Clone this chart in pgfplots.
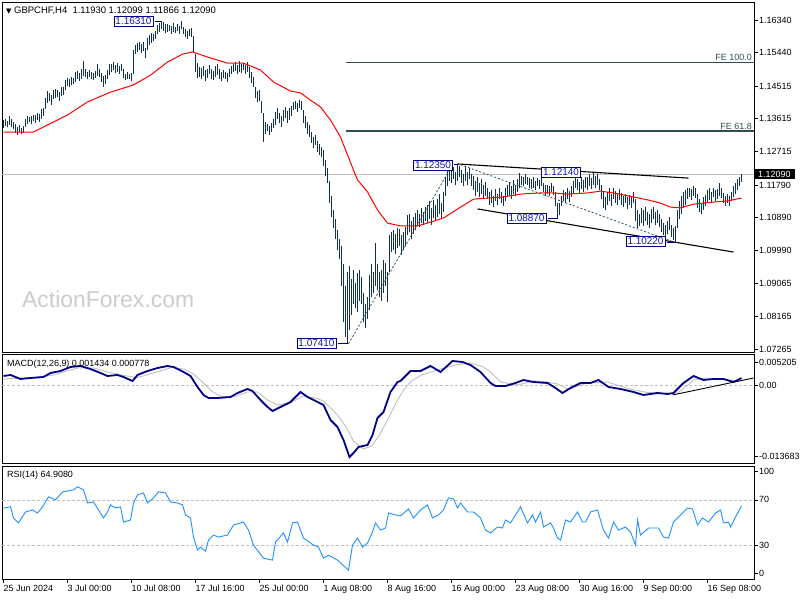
\documentclass[border=0pt]{standalone}
\usepackage{pgfplots}
\pgfplotsset{compat=1.18}
\usepackage{fontspec}
\setmainfont{Liberation Sans}
\newfontfamily\dejavu{DejaVu Sans}
\definecolor{barcol}{RGB}{16,50,74}
\definecolor{fecol}{RGB}{47,79,79}
\definecolor{lblblue}{RGB}{20,20,170}
\definecolor{lblborder}{RGB}{0,0,128}
\definecolor{macdblue}{RGB}{0,0,139}
\definecolor{sigcol}{RGB}{192,192,192}
\definecolor{rsicol}{RGB}{30,144,255}
\definecolor{lvlcol}{RGB}{192,192,192}
\tikzset{plab/.style={draw=lblborder, fill=white, text=lblblue, font=\fontsize{10}{11}\selectfont, inner xsep=1.5pt, inner ysep=1.5pt, line width=0.8pt}}
\begin{document}
\begin{tikzpicture}
\path[use as bounding box, fill=white] (0bp,0bp) rectangle (800bp,600bp);
\pgfplotsset{
  panel/.style={
    scale only axis, width=752bp, anchor=south west,
    xmin=-0.75, xmax=375.25,
    axis line style={black, line width=0.9pt},
    tick style={black, line width=0.7pt},
    major tick length=4pt,
    tick align=outside,
    ytick pos=right, yticklabel pos=right,
    xtick pos=bottom,
    scaled y ticks=false,
    tick label style={font=\fontsize{9}{10}\selectfont, inner sep=1pt},
    clip mode=individual,
  },
}
\node[anchor=base west, inner sep=0pt, text=gray!40, font=\fontsize{23}{26}\selectfont] at (22bp,292bp) {ActionForex.com};
\node[anchor=base west, inner sep=0pt, font=\fontsize{9.5}{10}\selectfont] at (6bp,586bp) {{\dejavu\fontsize{7}{8}\selectfont ▼}\ GBPCHF,H4\ \ 1.11930 1.12099 1.11866 1.12090};
% ---------------- price panel
\begin{axis}[panel, at={(2bp,248bp)}, height=350bp,
  ymin=1.07184, ymax=1.16837, xtick=\empty,
  ytick={1.07265,1.08165,1.09065,1.09990,1.10890,1.11790,1.12715,1.13615,1.14515,1.15440,1.16340},
  yticklabels={1.07265,1.08165,1.09065,1.09990,1.10890,1.11790,1.12715,1.13615,1.14515,1.15440,1.16340}]
\addplot[sigcol, line width=0.8pt] coordinates {(-0.75,1.12090) (375.25,1.12090)};
\addplot[fecol, line width=1.2pt] coordinates {(171,1.15174) (375.25,1.15174)};
\addplot[fecol, line width=1.2pt] coordinates {(171,1.13279) (375.25,1.13279)};
\addplot[draw=none, error bars/.cd, y dir=plus, y explicit, error mark=none,
  error bar style={draw=barcol, line width=1.25bp}]
  table[x=i, y=l, y error expr=\thisrow{h}-\thisrow{l}] {
i l h
0 1.1335 1.1358
1 1.1342 1.1362
2 1.1338 1.1356
3 1.1344 1.1368
4 1.1340 1.1360
5 1.1333 1.1352
6 1.1322 1.1346
7 1.1318 1.1338
8 1.1325 1.1344
9 1.1320 1.1336
10 1.1322 1.1342
11 1.1340 1.1362
12 1.1348 1.1368
13 1.1352 1.1366
14 1.1346 1.1370
15 1.1355 1.1373
16 1.1350 1.1372
17 1.1358 1.1378
18 1.1352 1.1375
19 1.1362 1.1388
20 1.1370 1.1392
21 1.1388 1.1420
22 1.1405 1.1438
23 1.1412 1.1432
24 1.1400 1.1428
25 1.1415 1.1442
26 1.1418 1.1445
27 1.1422 1.1440
28 1.1410 1.1436
29 1.1425 1.1450
30 1.1428 1.1448
31 1.1440 1.1468
32 1.1452 1.1474
33 1.1448 1.1470
34 1.1455 1.1478
35 1.1458 1.1475
36 1.1462 1.1490
37 1.1470 1.1494
38 1.1466 1.1488
39 1.1472 1.1498
40 1.1480 1.1522
41 1.1476 1.1500
42 1.1470 1.1492
43 1.1478 1.1495
44 1.1472 1.1490
45 1.1468 1.1488
46 1.1474 1.1494
47 1.1480 1.1512
48 1.1478 1.1500
49 1.1462 1.1488
50 1.1450 1.1480
51 1.1458 1.1482
52 1.1470 1.1496
53 1.1482 1.1512
54 1.1490 1.1514
55 1.1495 1.1518
56 1.1488 1.1510
57 1.1492 1.1516
58 1.1486 1.1508
59 1.1494 1.1512
60 1.1474 1.1498
61 1.1468 1.1486
62 1.1472 1.1490
63 1.1470 1.1484
64 1.1466 1.1488
65 1.1486 1.1550
66 1.1540 1.1566
67 1.1545 1.1570
68 1.1550 1.1574
69 1.1542 1.1568
70 1.1548 1.1572
71 1.1530 1.1556
72 1.1552 1.1585
73 1.1565 1.1592
74 1.1570 1.1598
75 1.1575 1.1596
76 1.1582 1.1604
77 1.1595 1.1620
78 1.1602 1.1626
79 1.1610 1.1631
80 1.1605 1.1628
81 1.1598 1.1622
82 1.1600 1.1624
83 1.1605 1.1620
84 1.1596 1.1618
85 1.1602 1.1626
86 1.1598 1.1615
87 1.1604 1.1622
88 1.1596 1.1618
89 1.1608 1.1630
90 1.1595 1.1615
91 1.1588 1.1610
92 1.1582 1.1604
93 1.1590 1.1608
94 1.1586 1.1612
95 1.1545 1.1590
96 1.1490 1.1540
97 1.1475 1.1515
98 1.1478 1.1505
99 1.1470 1.1502
100 1.1480 1.1508
101 1.1466 1.1496
102 1.1475 1.1500
103 1.1485 1.1510
104 1.1472 1.1498
105 1.1468 1.1494
106 1.1478 1.1506
107 1.1482 1.1512
108 1.1470 1.1500
109 1.1465 1.1492
110 1.1474 1.1496
111 1.1470 1.1490
112 1.1462 1.1488
113 1.1476 1.1500
114 1.1485 1.1508
115 1.1490 1.1512
116 1.1494 1.1518
117 1.1486 1.1510
118 1.1492 1.1520
119 1.1488 1.1512
120 1.1495 1.1516
121 1.1484 1.1510
122 1.1490 1.1518
123 1.1475 1.1505
124 1.1460 1.1490
125 1.1450 1.1478
126 1.1420 1.1448
127 1.1408 1.1438
128 1.1412 1.1440
129 1.1378 1.1410
130 1.1298 1.1378
131 1.1320 1.1352
132 1.1328 1.1348
133 1.1318 1.1342
134 1.1325 1.1350
135 1.1335 1.1362
136 1.1345 1.1380
137 1.1360 1.1392
138 1.1350 1.1378
139 1.1340 1.1370
140 1.1355 1.1385
141 1.1365 1.1395
142 1.1350 1.1382
143 1.1358 1.1390
144 1.1370 1.1398
145 1.1385 1.1408
146 1.1388 1.1412
147 1.1380 1.1406
148 1.1392 1.1414
149 1.1386 1.1410
150 1.1350 1.1385
151 1.1335 1.1368
152 1.1320 1.1352
153 1.1312 1.1345
154 1.1295 1.1325
155 1.1280 1.1312
156 1.1290 1.1318
157 1.1270 1.1300
158 1.1262 1.1292
159 1.1255 1.1285
160 1.1230 1.1275
161 1.1205 1.1248
162 1.1185 1.1225
163 1.1130 1.1190
164 1.1090 1.1150
165 1.1060 1.1110
166 1.1030 1.1085
167 1.1000 1.1055
168 1.0975 1.1030
169 1.0900 1.1010
170 1.0800 1.0960
171 1.0760 1.0900
172 1.0741 1.0940
173 1.0780 1.0955
174 1.0820 1.0920
175 1.0850 1.0945
176 1.0840 1.0910
177 1.0830 1.0935
178 1.0860 1.0945
179 1.0850 1.0925
180 1.0800 1.0880
181 1.0785 1.0850
182 1.0810 1.0870
183 1.0835 1.0930
184 1.0870 1.0960
185 1.0880 1.0940
186 1.0900 1.1020
187 1.0890 1.0960
188 1.0870 1.0940
189 1.0860 1.0945
190 1.0880 1.0972
191 1.0900 1.0965
192 1.0855 1.0940
193 1.0940 1.1040
194 1.0995 1.1050
195 1.1000 1.1055
196 1.0990 1.1045
197 1.1005 1.1060
198 1.1010 1.1058
199 1.0985 1.1040
200 1.1000 1.1048
201 1.1012 1.1062
202 1.1040 1.1095
203 1.1050 1.1100
204 1.1030 1.1080
205 1.1045 1.1090
206 1.1055 1.1102
207 1.1070 1.1110
208 1.1062 1.1098
209 1.1075 1.1115
210 1.1068 1.1105
211 1.1080 1.1118
212 1.1075 1.1125
213 1.1085 1.1135
214 1.1070 1.1115
215 1.1088 1.1138
216 1.1080 1.1125
217 1.1090 1.1140
218 1.1100 1.1155
219 1.1085 1.1130
220 1.1105 1.1160
221 1.1150 1.1200
222 1.1175 1.1225
223 1.1190 1.1234
224 1.1185 1.1225
225 1.1195 1.1228
226 1.1178 1.1215
227 1.1190 1.1235
228 1.1200 1.1230
229 1.1185 1.1220
230 1.1175 1.1210
231 1.1190 1.1228
232 1.1180 1.1215
233 1.1195 1.1226
234 1.1175 1.1210
235 1.1165 1.1205
236 1.1150 1.1190
237 1.1160 1.1200
238 1.1145 1.1185
239 1.1155 1.1195
240 1.1140 1.1178
241 1.1150 1.1188
242 1.1140 1.1170
243 1.1125 1.1160
244 1.1130 1.1165
245 1.1118 1.1150
246 1.1135 1.1168
247 1.1125 1.1155
248 1.1140 1.1172
249 1.1128 1.1160
250 1.1120 1.1150
251 1.1135 1.1170
252 1.1145 1.1180
253 1.1150 1.1188
254 1.1140 1.1175
255 1.1155 1.1192
256 1.1148 1.1180
257 1.1160 1.1195
258 1.1170 1.1212
259 1.1180 1.1205
260 1.1175 1.1200
261 1.1182 1.1208
262 1.1178 1.1200
263 1.1170 1.1198
264 1.1168 1.1196
265 1.1172 1.1200
266 1.1165 1.1190
267 1.1175 1.1198
268 1.1168 1.1192
269 1.1175 1.1214
270 1.1160 1.1185
271 1.1150 1.1180
272 1.1155 1.1178
273 1.1148 1.1175
274 1.1160 1.1184
275 1.1152 1.1176
276 1.1120 1.1160
277 1.1087 1.1130
278 1.1095 1.1128
279 1.1120 1.1150
280 1.1135 1.1165
281 1.1130 1.1160
282 1.1140 1.1172
283 1.1132 1.1162
284 1.1145 1.1175
285 1.1155 1.1190
286 1.1170 1.1212
287 1.1165 1.1195
288 1.1158 1.1188
289 1.1168 1.1200
290 1.1160 1.1192
291 1.1172 1.1202
292 1.1165 1.1200
293 1.1175 1.1210
294 1.1168 1.1198
295 1.1180 1.1212
296 1.1170 1.1205
297 1.1178 1.1208
298 1.1165 1.1195
299 1.1140 1.1180
300 1.1115 1.1160
301 1.1110 1.1145
302 1.1125 1.1160
303 1.1135 1.1170
304 1.1120 1.1155
305 1.1140 1.1172
306 1.1130 1.1162
307 1.1125 1.1158
308 1.1138 1.1168
309 1.1125 1.1158
310 1.1118 1.1150
311 1.1130 1.1155
312 1.1112 1.1145
313 1.1125 1.1152
314 1.1115 1.1148
315 1.1128 1.1160
316 1.1080 1.1140
317 1.1060 1.1110
318 1.1065 1.1100
319 1.1075 1.1115
320 1.1065 1.1110
321 1.1080 1.1118
322 1.1070 1.1105
323 1.1060 1.1100
324 1.1075 1.1112
325 1.1085 1.1118
326 1.1068 1.1105
327 1.1075 1.1110
328 1.1062 1.1098
329 1.1050 1.1085
330 1.1040 1.1075
331 1.1030 1.1068
332 1.1045 1.1080
333 1.1055 1.1090
334 1.1035 1.1070
335 1.1028 1.1060
336 1.1022 1.1065
337 1.1060 1.1110
338 1.1085 1.1135
339 1.1100 1.1150
340 1.1115 1.1160
341 1.1125 1.1165
342 1.1140 1.1170
343 1.1145 1.1172
344 1.1138 1.1168
345 1.1150 1.1175
346 1.1142 1.1170
347 1.1115 1.1155
348 1.1105 1.1140
349 1.1098 1.1130
350 1.1110 1.1145
351 1.1120 1.1152
352 1.1130 1.1165
353 1.1138 1.1170
354 1.1132 1.1160
355 1.1145 1.1172
356 1.1135 1.1165
357 1.1140 1.1168
358 1.1150 1.1185
359 1.1142 1.1170
360 1.1130 1.1158
361 1.1122 1.1150
362 1.1128 1.1155
363 1.1120 1.1148
364 1.1135 1.1160
365 1.1145 1.1175
366 1.1155 1.1185
367 1.1165 1.1195
368 1.1175 1.1200
369 1.1187 1.1210
};
\addplot[red, line width=1pt] coordinates {(0,1.1325) (15,1.1325) (20,1.1339) (32,1.1372) (42,1.1408) (53.5,1.1435) (65,1.1455) (73.5,1.1482) (82,1.1518) (89.5,1.1540) (94.5,1.1546) (102,1.1532) (112,1.1515) (120,1.1515) (128.5,1.1496) (135,1.1463) (143.5,1.1438) (148.5,1.1433) (153.5,1.1413) (158.5,1.1394) (163.5,1.1358) (168.5,1.1311) (171,1.1276) (175,1.1220) (177,1.1193) (182,1.1160) (187,1.1110) (192,1.1074) (198.5,1.1066) (207,1.1066) (212,1.1074) (220,1.1088) (228.5,1.1118) (235,1.1140) (242,1.1143) (250,1.1146) (258.5,1.1154) (268.5,1.1157) (275,1.1157) (282,1.1154) (292,1.1157) (298.5,1.1162) (305,1.1157) (315,1.1146) (322,1.1138) (328.5,1.1129) (333.5,1.1118) (338.5,1.1116) (345,1.1126) (355,1.1132) (362,1.1135) (369,1.1143)};
\addplot[black, line width=1.1pt] coordinates {(227,1.1237) (342.5,1.1198)};
\addplot[black, line width=1.1pt] coordinates {(237,1.1113) (365,1.0994)};
\addplot[fecol, line width=0.8pt, dash pattern=on 2pt off 2pt] coordinates {(172.5,1.0741) (224.5,1.1235)};
\addplot[fecol, line width=0.8pt, dash pattern=on 2pt off 2pt] coordinates {(228.5,1.1235) (335,1.1022)};
\node[anchor=south east, text=fecol, font=\fontsize{9}{10}\selectfont, inner sep=1.5pt] at (axis cs:375,1.15174) {FE 100.0};
\node[anchor=south east, text=fecol, font=\fontsize{9}{10}\selectfont, inner sep=1.5pt] at (axis cs:375,1.13279) {FE 61.8};
\draw[lblborder, line width=0.8pt] (axis cs:75.5,1.1631) -- (axis cs:79,1.1631);
\node[plab] at (axis cs:65,1.16313) {1.16310};
\draw[lblborder, line width=0.8pt] (axis cs:167,1.0741) -- (axis cs:172,1.0741);
\node[plab] at (axis cs:156.5,1.07418) {1.07410};
\draw[lblborder, line width=0.8pt] (axis cs:225,1.1235) -- (axis cs:227.5,1.1235);
\node[plab] at (axis cs:214.75,1.12341) {1.12350};
\draw[lblborder, line width=0.8pt] (axis cs:272,1.1087) -- (axis cs:277,1.1087);
\node[plab] at (axis cs:261.5,1.10866) {1.08870};
\node[plab] at (axis cs:278.75,1.12134) {1.12140};
\draw[lblborder, line width=0.8pt] (axis cs:331.5,1.1022) -- (axis cs:336.5,1.1022);
\node[plab] at (axis cs:321,1.10231) {1.10220};
\node[anchor=west, fill=black, text=white, font=\fontsize{9}{10}\selectfont, inner xsep=4pt, inner ysep=2pt] at (axis cs:375.25,1.12090) {1.12090};
\end{axis}
% ---------------- MACD panel
\begin{axis}[panel, at={(2bp,137bp)}, height=109bp, ymin=-0.0156, ymax=0.0062, xtick=\empty,
  ytick={-0.01434,0,0.0046}, yticklabels={-0.013683,0.00,0.005205}]
\addplot[lvlcol, line width=0.8pt, dash pattern=on 3pt off 2pt] coordinates {(-0.75,0) (375.25,0)};
\addplot[sigcol, line width=0.9pt] coordinates {(0,0.0012) (15,0.0015) (25,0.0020) (37,0.0034) (45,0.0034) (52,0.0026) (60,0.0019) (67,0.0015) (75,0.0024) (84,0.0035) (90,0.0032) (95,0.0022) (100,0.0004) (104,-0.0012) (108,-0.0022) (115,-0.0024) (122,-0.0014) (127,-0.0014) (132,-0.0030) (137,-0.0040) (143,-0.0036) (150,-0.0022) (156,-0.0026) (160,-0.0032) (167,-0.0060) (171,-0.0082) (175,-0.0112) (180,-0.0128) (184,-0.0122) (188,-0.0100) (192,-0.0070) (196,-0.0038) (200,-0.0010) (204,0.0008) (209,0.0020) (218.5,0.0032) (226,0.0040) (233.5,0.0044) (240,0.0036) (244,0.0024) (248.5,0.0006) (257,0.0000) (265,0.0008) (272,0.0006) (277,0.0002) (282,-0.0008) (287,-0.0002) (292,0.0004) (302,0.0006) (308,-0.0002) (315,-0.0010) (322,-0.0015) (328.5,-0.0016) (337,-0.0016) (341,-0.0004) (345,0.0010) (352,0.0014) (360,0.0011) (369,0.00078)};
\addplot[macdblue, line width=1.8pt] coordinates {(0,0.0018) (3.5,0.0020) (8.5,0.0012) (13.5,0.0014) (20,0.0016) (23.5,0.0024) (28.5,0.0028) (33.5,0.0036) (38.5,0.0038) (43.5,0.0032) (48.5,0.0024) (52,0.0018) (57,0.0020) (60,0.0016) (64.5,0.0008) (67,0.0020) (72,0.0028) (77,0.0034) (82,0.0038) (85,0.0036) (90,0.0026) (93.5,0.0018) (97,-0.0004) (100,-0.0020) (102.5,-0.0026) (107,-0.0026) (113.5,-0.0024) (117,-0.0016) (122,-0.0008) (124.5,-0.0012) (128.5,-0.0030) (132,-0.0044) (134.5,-0.0052) (138.5,-0.0044) (143.5,-0.0034) (148.5,-0.0014) (152,-0.0024) (156,-0.0032) (160,-0.0040) (163.5,-0.0070) (167,-0.0084) (170,-0.0110) (173,-0.0144) (175,-0.0136) (177.5,-0.0124) (182,-0.0120) (184.5,-0.0100) (187,-0.0066) (190,-0.0054) (193.5,-0.0014) (197,0.0006) (198.5,0.0008) (203.5,0.0028) (208.5,0.0028) (213.5,0.0038) (218.5,0.0026) (224.5,0.0048) (229.5,0.0046) (233.5,0.0040) (238.5,0.0026) (243.5,0.0004) (246,-0.0002) (251,-0.0002) (256,0.0004) (260,0.0010) (265,0.0006) (272,0.0004) (276,-0.0006) (279.5,-0.0016) (283.5,-0.0006) (288.5,0.0004) (293.5,0.0004) (297.5,0.0010) (302.5,-0.0004) (308.5,-0.0008) (315,-0.0014) (320,-0.0020) (327,-0.0016) (332,-0.0018) (335,-0.0016) (340,0.0004) (345,0.0018) (350,0.0010) (355,0.0012) (360,0.0012) (365,0.0006) (369,0.0014)};
\addplot[black, line width=0.9pt] coordinates {(334.5,-0.0020) (375,0.0014)};
\node[anchor=base west, inner sep=0pt, xshift=5bp, yshift=-12.5bp, font=\fontsize{9}{10}\selectfont] at (rel axis cs:0,1) {MACD(12,26,9) 0.001434 0.000778};
\end{axis}
% ---------------- RSI panel
\begin{axis}[panel, at={(2bp,21bp)}, height=113bp, ymin=0, ymax=100,
  ytick={5,30,70,95}, yticklabels={0,30,70,100},
  xtick={0,32,...,352},
  xticklabels={25 Jun 2024,3 Jul 00:00,10 Jul 08:00,17 Jul 16:00,25 Jul 00:00,1 Aug 08:00,8 Aug 16:00,16 Aug 00:00,23 Aug 08:00,30 Aug 16:00,9 Sep 00:00,16 Sep 08:00},
  xticklabel style={anchor=north west, inner sep=0pt, yshift=-2pt}]
\addplot[lvlcol, line width=0.8pt, dash pattern=on 3pt off 2pt] coordinates {(-0.75,30) (375.25,30)};
\addplot[lvlcol, line width=0.8pt, dash pattern=on 3pt off 2pt] coordinates {(-0.75,70) (375.25,70)};
\addplot[rsicol, line width=0.9pt] coordinates {(0,62.6) (3.5,64.0) (5,54.0) (7.5,49.6) (11,59.3) (14.5,61.1) (17,58.4) (19.5,63.8) (22.5,72.7) (26,70.0) (29.5,77.1) (35,78.9) (37,81.6) (40,78.9) (42,67.3) (45,68.2) (47.5,61.1) (50,54.0) (52,59.3) (53.5,65.6) (56,62.9) (58.5,63.8) (60,50.4) (63.5,52.2) (65,67.3) (67,74.4) (70,76.2) (72,67.3) (75,71.8) (77.5,77.1) (81,76.2) (83.5,68.2) (87,67.3) (89.5,65.6) (91,56.7) (93.5,54.0) (95,37.1) (97,25.6) (98.5,28.2) (101,24.7) (102.5,34.4) (105,38.9) (107.5,37.1) (112,38.9) (115,47.8) (120,50.4) (122.5,43.3) (125,30.0) (130,18.4) (134.5,16.7) (136,32.7) (140,40.7) (142,32.7) (144.5,49.6) (147,50.4) (150,36.2) (155,30.0) (157.5,28.2) (160,18.4) (162.5,21.1) (167,16.7) (172.5,7.8) (174.5,30.0) (177,36.2) (179.5,28.2) (182,31.8) (184.5,41.6) (186,49.6) (188.5,43.3) (191,45.1) (192.5,58.4) (196,56.7) (198.5,55.8) (202.5,62.0) (205,54.0) (208.5,61.1) (212,65.6) (214.5,54.0) (217.5,56.7) (220,61.1) (222.5,71.8) (225,70.9) (227,62.9) (228.5,67.3) (232,59.3) (235,59.3) (238.5,54.0) (241,43.3) (243.5,40.7) (247,46.0) (249.5,45.1) (251,52.2) (253.5,49.6) (256,56.7) (258.5,63.8) (262,49.6) (264.5,56.7) (266,50.4) (268.5,59.3) (270,46.0) (273.5,49.6) (275,45.1) (277,36.2) (278.5,34.4) (281,52.2) (283.5,50.4) (287,59.3) (289.5,50.4) (291,50.4) (293.5,59.3) (297,61.1) (300,43.3) (302.5,36.2) (305,50.4) (307.5,43.3) (311,46.0) (313.5,41.6) (316,30.0) (317,52.2) (318.5,38.9) (322.5,45.1) (327.5,45.1) (330,37.1) (332.5,36.2) (335,50.4) (338.5,56.7) (342,62.9) (344.5,62.0) (347,47.8) (349.5,54.0) (352.5,50.4) (356,58.4) (358.5,61.1) (360,49.6) (362.5,50.4) (363.5,46.0) (366,54.9) (368.5,62.9) (369,64.9)};
\node[anchor=base west, inner sep=0pt, xshift=5bp, yshift=-11.5bp, font=\fontsize{9}{10}\selectfont] at (rel axis cs:0,1) {RSI(14) 64.9080};
\end{axis}
\end{tikzpicture}
\end{document}
